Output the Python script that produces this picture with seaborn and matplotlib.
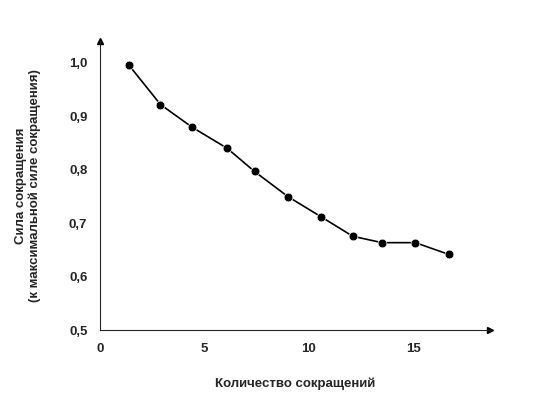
import matplotlib
matplotlib.use("Agg")
import matplotlib.pyplot as plt
import seaborn as sns
import pandas as pd

contractions = [1.4, 2.9, 4.4, 6.1, 7.4, 9.0, 10.6, 12.1, 13.5, 15.1, 16.7]
force = [0.995, 0.922, 0.88, 0.84, 0.797, 0.75, 0.712, 0.676, 0.664, 0.664, 0.642]
xticks = [0, 5, 10, 15]
yticks = [0.5, 0.6, 0.7, 0.8, 0.9, 1.0]
ylabels = ["0,5", "0,6", "0,7", "0,8", "0,9", "1,0"]

sns.set_style("white")
plt.rcParams['font.family'] = ['Liberation Sans', 'DejaVu Sans']
fig = plt.figure(figsize=(5.4, 4.08), dpi=100)
ax = fig.add_axes([0.185, 0.19, 0.722, 0.71])
df = pd.DataFrame({"x": contractions, "y": force})
sns.lineplot(data=df, x="x", y="y", color="black", lw=1.2, ax=ax)
sns.scatterplot(data=df, x="x", y="y", color="black", s=40, zorder=3, ax=ax)
ax.set_xlim(0, 18.66)
ax.set_ylim(0.5, 1.041)
ax.set_xticks(xticks)
ax.set_xticklabels([str(t) for t in xticks], fontweight="bold", fontsize=9.5)
ax.set_yticks(yticks)
ax.set_yticklabels(ylabels, fontweight="bold", fontsize=9.5)
ax.tick_params(length=0, pad=9)
for s in ["top", "right"]:
    ax.spines[s].set_visible(False)
for s in ["left", "bottom"]:
    ax.spines[s].set_linewidth(0.8)
ax.plot(1, 0, ">k", ms=4, transform=ax.transAxes, clip_on=False)
ax.plot(0, 1, "^k", ms=4, transform=ax.transAxes, clip_on=False)
ax.set_xlabel("Количество сокращений", fontweight="bold", fontsize=9.5, labelpad=16)
ax.set_ylabel("Сила сокращения\n(к максимальной силе сокращения)", fontweight="bold", fontsize=9.5, labelpad=20)
fig.savefig("out.png", dpi=100)
